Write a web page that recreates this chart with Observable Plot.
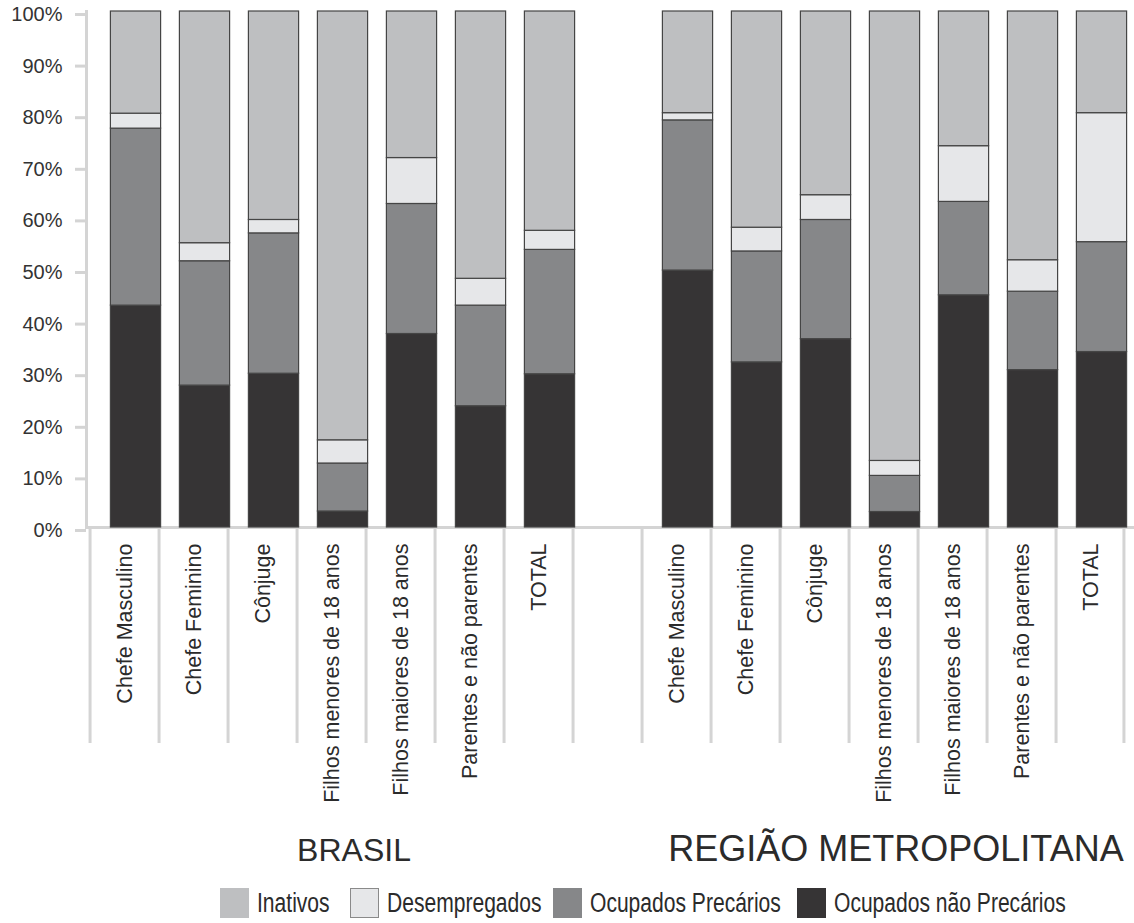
<!DOCTYPE html>
<html>
<head>
<meta charset="utf-8">
<script src="https://cdn.jsdelivr.net/npm/d3@7"></script>
<script src="https://cdn.jsdelivr.net/npm/@observablehq/plot@0.6"></script>
<style>
html, body { margin: 0; padding: 0; background: #fff; overflow: hidden; }
#chart { position: relative; width: 1134px; height: 923px; font-family: "Liberation Sans", Arial, sans-serif; }
#chart svg { display: block; }
#legend { position: absolute; left: 0; top: 888px; width: 1134px; height: 30px; }
.item { position: absolute; top: 0; height: 30px; display: flex; align-items: center; }
.sw { width: 29px; height: 30px; box-sizing: border-box; flex: none; }
.lab { font-size: 27px; color: #2b2b2b; transform: scaleX(0.78); transform-origin: left center; white-space: nowrap; margin-left: 8px; line-height: 30px; }
</style>
</head>
<body>
<div id="chart"></div>
<script>
// ---- data ----
const categories = ["Chefe Masculino", "Chefe Feminino", "Cônjuge", "Filhos menores de 18 anos", "Filhos maiores de 18 anos", "Parentes e não parentes", "TOTAL"];
const regions = ["BRASIL", "REGIÃO METROPOLITANA"];
const series = ["Inativos", "Desempregados", "Ocupados Precários", "Ocupados não Precários"];
const yTicks = [0, 10, 20, 30, 40, 50, 60, 70, 80, 90, 100];

// BRASIL (%)
const brOcupadosNaoPrecarios = [43.0, 27.5, 29.8, 3.1, 37.5, 23.5, 29.7];
const brOcupadosPrecarios    = [34.3, 24.1, 27.2, 9.3, 25.2, 19.5, 24.1];
const brDesempregados        = [2.9, 3.5, 2.6, 4.5, 8.9, 5.2, 3.7];
const brInativos             = [19.8, 44.9, 40.4, 83.1, 28.4, 51.8, 42.5];

// REGIÃO METROPOLITANA (%)
const rmOcupadosNaoPrecarios = [49.8, 32.0, 36.5, 3.0, 45.0, 30.5, 34.0];
const rmOcupadosPrecarios    = [29.1, 21.5, 23.1, 7.0, 18.1, 15.2, 21.3];
const rmDesempregados        = [1.4, 4.6, 4.8, 2.9, 10.8, 6.1, 25.0];
const rmInativos             = [19.7, 41.9, 35.6, 87.1, 26.1, 48.2, 19.7];

// ---- styles ----
const colors = ["#bebfc1", "#e6e7e9", "#868789", "#363435"];
const gridGray = "#d4d4d4";
const textColor = "#2b2b2b";

// ---- build table ----
const key = (r, c) => r + "|" + c;
const slots = [...categories.map(c => key(regions[0], c)), "gap", ...categories.map(c => key(regions[1], c))];
const valuesBy = {
  [regions[0]]: {"Ocupados não Precários": brOcupadosNaoPrecarios, "Ocupados Precários": brOcupadosPrecarios, "Desempregados": brDesempregados, "Inativos": brInativos},
  [regions[1]]: {"Ocupados não Precários": rmOcupadosNaoPrecarios, "Ocupados Precários": rmOcupadosPrecarios, "Desempregados": rmDesempregados, "Inativos": rmInativos}
};
const stackOrder = series.slice().reverse();
const table = [];
for (const r of regions) {
  categories.forEach((c, i) => {
    for (const s of stackOrder) table.push({slot: key(r, c), serie: s, value: valuesBy[r][s][i]});
  });
}

const W = 1134, H = 870, yBottom = 527, yTop = 11;
const step = (1131.5 - 83.5) / slots.length;

const plot = Plot.plot({
  width: W,
  height: H,
  marginLeft: 86,
  marginRight: 0,
  marginTop: yTop,
  marginBottom: H - yBottom,
  style: {fontFamily: '"Liberation Sans", Arial, sans-serif', background: "transparent", overflow: "visible"},
  x: {domain: slots, range: [83.5, 1131.5], padding: 0, axis: null, label: null},
  y: {domain: [0, 100], axis: null, label: null},
  color: {domain: series, range: colors},
  marks: [
    // category dividers below the axis (band edges)
    Plot.axisX(slots, {anchor: "bottom", label: null, tickSize: 216, tickFormat: () => "", dx: -step / 2, stroke: gridGray, strokeWidth: 3}),
    Plot.axisX([slots[slots.length - 1]], {anchor: "bottom", label: null, tickSize: 216, tickFormat: () => "", dx: step / 2 - 2, stroke: gridGray, strokeWidth: 3}),
    // y axis
    Plot.axisY(yTicks, {anchor: "left", label: null, tickSize: 11, tickPadding: 13, tickFormat: d => d + "%", fontSize: 20, stroke: gridGray, strokeWidth: 3, fill: "#333", dy: 3}),
    Plot.frame({anchor: "left", stroke: gridGray, strokeWidth: 3}),
    Plot.ruleY([0], {stroke: gridGray, strokeWidth: 3}),
    // stacked bars
    Plot.barY(table, {x: "slot", y: "value", fill: "serie", stroke: "#454545", strokeWidth: 1.2, insetLeft: 9.4, insetRight: 9.4, dx: 11}),
    // category labels
    Plot.axisX(slots, {anchor: "bottom", label: null, tickSize: 0, tickPadding: 16, tickRotate: -90, fontSize: 21.5, fill: textColor,
      tickFormat: d => (d.split("|")[1] ?? "")}),
    // region labels
    Plot.text([regions[0]], {x: () => key(regions[0], categories[3]), text: d => d, frameAnchor: "bottom", dy: 333, dx: 22, fontSize: 32, fill: textColor}),
    Plot.text([regions[1]], {x: () => key(regions[1], categories[3]), text: d => d, frameAnchor: "bottom", dy: 333, dx: 12, fontSize: 36, fill: textColor})
  ]
});

const chart = document.getElementById("chart");
chart.appendChild(plot);

// ---- legend ----
const legendX = [220, 350, 553, 797];
const legend = document.createElement("div");
legend.id = "legend";
series.forEach((s, i) => {
  const item = document.createElement("div");
  item.className = "item";
  item.style.left = legendX[i] + "px";
  const sw = document.createElement("div");
  sw.className = "sw";
  sw.style.background = colors[i];
  if (s === "Desempregados") sw.style.border = "1px solid #8a8a8a";
  const lab = document.createElement("span");
  lab.className = "lab";
  lab.textContent = s;
  item.appendChild(sw);
  item.appendChild(lab);
  legend.appendChild(item);
});
chart.appendChild(legend);
</script>
</body>
</html>
